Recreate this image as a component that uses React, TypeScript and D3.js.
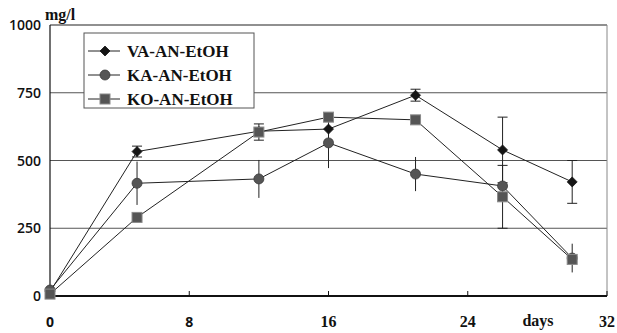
import React from "react";
import * as d3 from "d3";

const days = [0, 5, 12, 16, 21, 26, 30];
const vaValues = [15, 533, 608, 616, 741, 539, 421];
const vaErrors = [0, 20, 0, 0, 22, 121, 79];
const kaValues = [22, 416, 432, 565, 450, 406, 140];
const kaErrors = [0, 80, 70, 93, 63, 0, 53];
const koValues = [7, 290, 605, 660, 650, 366, 135];
const koErrors = [0, 0, 30, 0, 0, 116, 0];
const yTicks = [0, 250, 500, 750, 1000];
const xTicks = [0, 8, 16, 24, 32];
const seriesNames = ["VA-AN-EtOH", "KA-AN-EtOH", "KO-AN-EtOH"];

const W = 617, H = 333;
const x = d3.scaleLinear().domain([0, 32]).range([50, 607]);
const y = d3.scaleLinear().domain([0, 1000]).range([296, 25]);

type Series = { name: string; values: number[]; errors: number[]; shape: string; caps: boolean };
const series: Series[] = [
  { name: seriesNames[0], values: vaValues, errors: vaErrors, shape: "diamond", caps: true },
  { name: seriesNames[1], values: kaValues, errors: kaErrors, shape: "circle", caps: false },
  { name: seriesNames[2], values: koValues, errors: koErrors, shape: "square", caps: true },
];

function Marker({ shape, cx, cy }: { shape: string; cx: number; cy: number }) {
  if (shape === "diamond") {
    const s = 5;
    return <path d={`M${cx},${cy - s}L${cx + s},${cy}L${cx},${cy + s}L${cx - s},${cy}Z`} fill="#151515" stroke="#151515" strokeWidth={0.8} />;
  }
  if (shape === "circle") {
    return <circle cx={cx} cy={cy} r={5} fill="#555" stroke="#3a3a3a" strokeWidth={0.8} />;
  }
  return <rect x={cx - 5} y={cy - 5} width={10} height={10} fill="#555" stroke="#8a8a8a" strokeWidth={1} />;
}

export default function App() {
  const line = d3.line<number>().x((_, i) => x(days[i])).y((v) => y(v));
  return (
    <svg width={W} height={H} style={{ position: "absolute", left: 0, top: 0, background: "#fff" }}>
      {/* grid */}
      {yTicks.filter((t) => t > 0 && t < 1000).map((t) => (
        <line key={t} x1={x(0)} x2={x(32)} y1={y(t)} y2={y(t)} stroke="#555" strokeWidth={1} />
      ))}
      <line x1={x(0)} x2={x(32)} y1={y(1000)} y2={y(1000)} stroke="#222" strokeWidth={1.2} />
      <line x1={x(32)} x2={x(32)} y1={y(1000)} y2={y(0)} stroke="#888" strokeWidth={1} />
      <line x1={x(0)} x2={x(0)} y1={y(1000)} y2={y(0)} stroke="#111" strokeWidth={1.2} />
      <line x1={x(0)} x2={x(32)} y1={y(0)} y2={y(0)} stroke="#111" strokeWidth={2} />
      {xTicks.map((t) => (
        <line key={t} x1={x(t)} x2={x(t)} y1={y(0)} y2={y(0) - 5} stroke="#111" strokeWidth={1} />
      ))}
      {/* error bars */}
      {series.map((s) =>
        s.values.map((v, i) => {
          const e = s.errors[i];
          if (!e) return null;
          const cx = x(days[i]);
          const y1 = y(v + e), y2 = y(v - e);
          return (
            <g key={s.name + i} stroke="#222" strokeWidth={1}>
              <line x1={cx} x2={cx} y1={y1} y2={y2} />
              {s.caps && <line x1={cx - 5} x2={cx + 5} y1={y1} y2={y1} />}
              {s.caps && <line x1={cx - 5} x2={cx + 5} y1={y2} y2={y2} />}
            </g>
          );
        })
      )}
      {/* lines */}
      {series.map((s) => (
        <path key={s.name} d={line(s.values) || ""} fill="none" stroke="#222" strokeWidth={1} />
      ))}
      {/* markers */}
      {series.map((s) =>
        s.values.map((v, i) => <Marker key={s.name + "m" + i} shape={s.shape} cx={x(days[i])} cy={y(v)} />)
      )}
      {/* y tick labels */}
      {yTicks.map((t) => (
        <text key={t} x={41} y={y(t) + 5} textAnchor="end" fontFamily="'Open Sans', sans-serif" fontSize={14} fontWeight={600} fill="#111">
          {t}
        </text>
      ))}
      {/* x tick labels */}
      {xTicks.map((t) => (
        <text key={t} x={x(t)} y={327} textAnchor="middle"
          fontFamily={t < 10 ? "'Open Sans', sans-serif" : "'Liberation Serif', serif"}
          fontSize={t < 10 ? 14 : 16} fontWeight={700} fill="#111">
          {t}
        </text>
      ))}
      <text x={538} y={326} textAnchor="middle" fontFamily="'Liberation Serif', serif" fontSize={16} fontWeight={700} fill="#111">days</text>
      <text x={45} y={20} fontFamily="'Liberation Serif', serif" fontSize={16} fontWeight={700} fill="#111">mg/l</text>
      {/* legend */}
      <rect x={84} y={33} width={170} height={75} fill="#fff" stroke="#555" strokeWidth={1} />
      {series.map((s, i) => {
        const ly = 51 + i * 24;
        return (
          <g key={s.name + "leg"}>
            <line x1={88} x2={120} y1={ly} y2={ly} stroke="#222" strokeWidth={1} />
            <Marker shape={s.shape} cx={105} cy={ly} />
            <text x={127} y={ly + 6} fontFamily="'Liberation Serif', serif" fontSize={17} fontWeight={700} fill="#111">{s.name}</text>
          </g>
        );
      })}
    </svg>
  );
}
